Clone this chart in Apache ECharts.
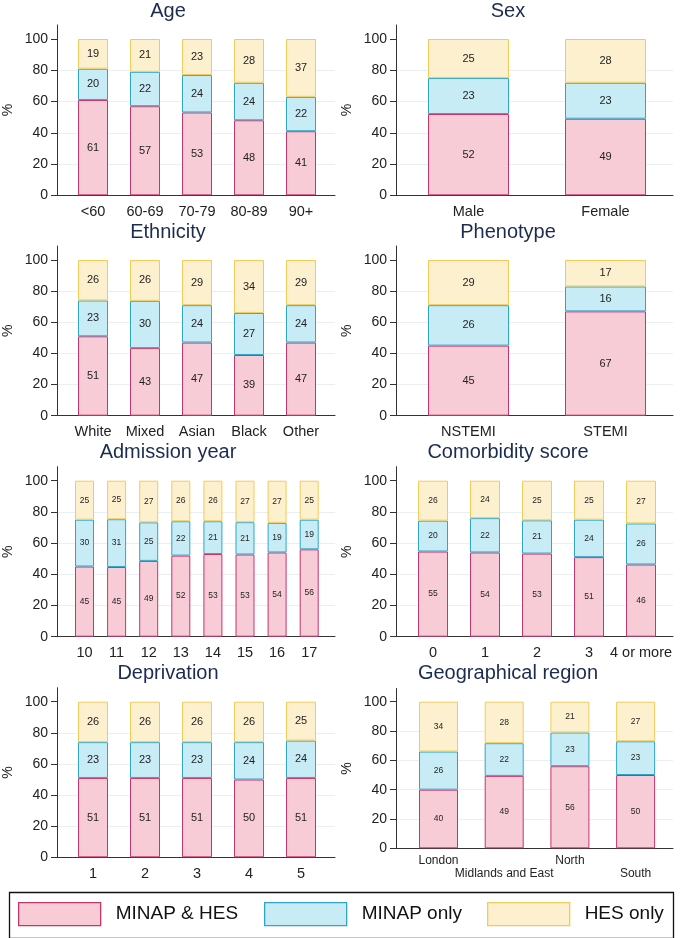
<!DOCTYPE html>
<html>
<head>
<meta charset="utf-8">
<script src="https://cdn.jsdelivr.net/npm/echarts@6/dist/echarts.min.js"></script>
<style>html,body{margin:0;padding:0;background:#fff;}#chart{width:680px;height:938px;}</style>
</head>
<body>
<div id="chart"></div>
<script>
// ---------- DATA ----------
const seriesNames = ['MINAP & HES', 'MINAP only', 'HES only'];
const yTicks = [0, 20, 40, 60, 80, 100];

const ageCats = ['<60', '60-69', '70-79', '80-89', '90+'];
const ageBoth = [61, 57, 53, 48, 41];
const ageMinap = [20, 22, 24, 24, 22];
const ageHes = [19, 21, 23, 28, 37];

const sexCats = ['Male', 'Female'];
const sexBoth = [52, 49];
const sexMinap = [23, 23];
const sexHes = [25, 28];

const ethCats = ['White', 'Mixed', 'Asian', 'Black', 'Other'];
const ethBoth = [51, 43.4, 47, 39, 47];
const ethMinap = [23, 30.4, 24, 27, 24];
const ethHes = [26, 26.2, 29, 34, 29];

const phenoCats = ['NSTEMI', 'STEMI'];
const phenoBoth = [45, 67];
const phenoMinap = [26, 16];
const phenoHes = [29, 17];

const yearCats = ['10', '11', '12', '13', '14', '15', '16', '17'];
const yearBoth = [45, 44.7, 48.6, 52, 53, 52.7, 54, 56];
const yearMinap = [30, 30.6, 24.7, 22, 21, 20.7, 19, 19];
const yearHes = [25, 24.7, 26.7, 26, 26, 26.6, 27, 25];

const comCats = ['0', '1', '2', '3', '4 or more'];
const comBoth = [54.6, 54, 53.3, 51, 46.3];
const comMinap = [19.8, 22, 21.3, 24, 26.3];
const comHes = [25.6, 24, 25.4, 25, 27.4];

const depCats = ['1', '2', '3', '4', '5'];
const depBoth = [51, 51, 51, 50, 51];
const depMinap = [23, 23, 23, 24, 24];
const depHes = [26, 26, 26, 26, 25];

const regCats = ['London', 'Midlands and East', 'North', 'South'];
const regBoth = [40, 49.4, 56, 50];
const regMinap = [26, 22.3, 23, 23];
const regHes = [34, 28.3, 21, 27];

// ---------- STYLE / LAYOUT ----------
const FONT = '"Liberation Sans", Arial, Helvetica, sans-serif';
const styles = [
  { fill: '#f8ccd7', border: '#c4356a' },
  { fill: '#c8ecf6', border: '#2fa6c8' },
  { fill: '#fdf0cf', border: '#f1cb5a' }
];
const colLayout = [
  { L: 56, R: 335, titleX: 168 },
  { L: 396, R: 673, titleX: 508 }
];
const panels = [
  { title: 'Age', cats: ageCats, vals: [ageBoth, ageMinap, ageHes], col: 0, y100: 39, y0: 195.3, titleTop: 1, c0: 93, step: 52, bw: 30, lab: 11 },
  { title: 'Sex', cats: sexCats, vals: [sexBoth, sexMinap, sexHes], col: 1, y100: 39, y0: 195.3, titleTop: 1, c0: 468.5, step: 137, bw: 81, lab: 11 },
  { title: 'Ethnicity', cats: ethCats, vals: [ethBoth, ethMinap, ethHes], col: 0, y100: 260, y0: 415.7, titleTop: 222, c0: 93, step: 52, bw: 30, lab: 11 },
  { title: 'Phenotype', cats: phenoCats, vals: [phenoBoth, phenoMinap, phenoHes], col: 1, y100: 260, y0: 415.7, titleTop: 222, c0: 468.5, step: 137, bw: 81, lab: 11 },
  { title: 'Admission year', cats: yearCats, vals: [yearBoth, yearMinap, yearHes], col: 0, y100: 480.7, y0: 636.7, titleTop: 442, c0: 84.5, step: 32.1, bw: 19, lab: 8.5 },
  { title: 'Comorbidity score', cats: comCats, vals: [comBoth, comMinap, comHes], col: 1, y100: 480.7, y0: 636.7, titleTop: 442, c0: 433, step: 52, bw: 30, lab: 8.5 },
  { title: 'Deprivation', cats: depCats, vals: [depBoth, depMinap, depHes], col: 0, y100: 701.7, y0: 857.3, titleTop: 663, c0: 93, step: 52, bw: 30, lab: 11 },
  { title: 'Geographical region', cats: regCats, vals: [regBoth, regMinap, regHes], col: 1, y100: 701.7, y0: 848.3, titleTop: 663, c0: 438.5, step: 65.7, bw: 39, lab: 8.5, stagger: true }
];

const option = {
  backgroundColor: '#ffffff',
  animation: false,
  textStyle: { fontFamily: FONT },
  title: [], grid: [], xAxis: [], yAxis: [], series: [], legend: [],
  graphic: [{
    type: 'rect', left: 7, top: 890,
    shape: { width: 664, height: 46 },
    style: { fill: 'none', stroke: '#111', lineWidth: 1.3 }
  }]
};

panels.forEach((p, i) => {
  const c = colLayout[p.col];
  const span = p.y0 - p.y100;
  const top = p.y100 - 0.09 * span;
  const height = p.y0 - top;
  option.title.push({
    text: p.title, left: c.titleX, top: p.titleTop, textAlign: 'center', padding: 0,
    textStyle: { fontFamily: FONT, fontSize: 20, fontWeight: 'normal', color: '#1c2b50' }
  });
  // outer frame grid: visible y axis, gridlines and full-width x axis line
  const gOuter = option.grid.length;
  option.grid.push({ left: c.L, width: c.R - c.L, top: top, height: height });
  option.xAxis.push({
    type: 'value', gridIndex: gOuter, min: 0, max: 1,
    axisLine: { show: true, onZero: false, lineStyle: { color: '#333', width: 1 } },
    axisTick: { show: false }, axisLabel: { show: false }, splitLine: { show: false }
  });
  option.yAxis.push({
    type: 'value', gridIndex: gOuter, min: 0, max: 109, interval: 20,
    name: '%', nameLocation: 'middle', nameGap: 42, nameRotate: 90,
    nameTextStyle: { fontFamily: FONT, fontSize: 14, color: '#222' },
    axisLine: { show: true, onZero: false, lineStyle: { color: '#333', width: 1 } },
    axisTick: { show: true, length: 6, customValues: yTicks, lineStyle: { color: '#333' } },
    axisLabel: { customValues: yTicks, fontFamily: FONT, fontSize: 14, color: '#222', margin: 9 },
    splitLine: { show: true, showMaxLine: false, showMinLine: false, lineStyle: { color: '#e9eff3', width: 1 } }
  });
  // inner grid: category bands holding the bars
  const gInner = option.grid.length;
  option.grid.push({ left: p.c0 - p.step / 2, width: p.step * p.cats.length, top: top, height: height });
  const xi = option.xAxis.length;
  option.xAxis.push({
    type: 'category', gridIndex: gInner, data: p.cats, boundaryGap: true,
    axisLine: { show: false }, axisTick: { show: false }, splitLine: { show: false },
    axisLabel: {
      interval: 0, hideOverlap: false,
      formatter: (v, k) => (p.stagger && k % 2 === 1 ? '\n' + v : v),
      fontFamily: FONT, fontSize: p.stagger ? 12 : 14.5, color: '#222',
      margin: p.stagger ? 6 : 8, lineHeight: p.stagger ? 13 : 17
    }
  });
  const yi = option.yAxis.length;
  option.yAxis.push({
    type: 'value', gridIndex: gInner, min: 0, max: 109, show: false,
    splitLine: { show: false }
  });
  p.vals.forEach((arr, s) => {
    option.series.push({
      type: 'bar', name: seriesNames[s], stack: 'p' + i,
      xAxisIndex: xi, yAxisIndex: yi, barWidth: p.bw,
      data: arr,
      itemStyle: { color: styles[s].fill, borderColor: styles[s].border, borderWidth: 1 },
      label: {
        show: true, position: 'inside', fontFamily: FONT, fontSize: p.lab, color: '#222',
        formatter: d => Math.round(d.value)
      },
      emphasis: { disabled: true }
    });
  });
});

const legendLefts = [18, 264, 487];
seriesNames.forEach((n, s) => {
  option.legend.push({
    data: [n], left: legendLefts[s], top: 902, padding: 0,
    itemWidth: 82, itemHeight: 23, itemGap: 0, icon: 'rect',
    selectedMode: false,
    itemStyle: { color: styles[s].fill, borderColor: styles[s].border, borderWidth: 1.3 },
    textStyle: { fontFamily: FONT, fontSize: 19, color: '#111', padding: [0, 0, 0, 10] }
  });
});

const chart = echarts.init(document.getElementById('chart'), null, { renderer: 'canvas' });
chart.setOption(option);
</script>
</body>
</html>
